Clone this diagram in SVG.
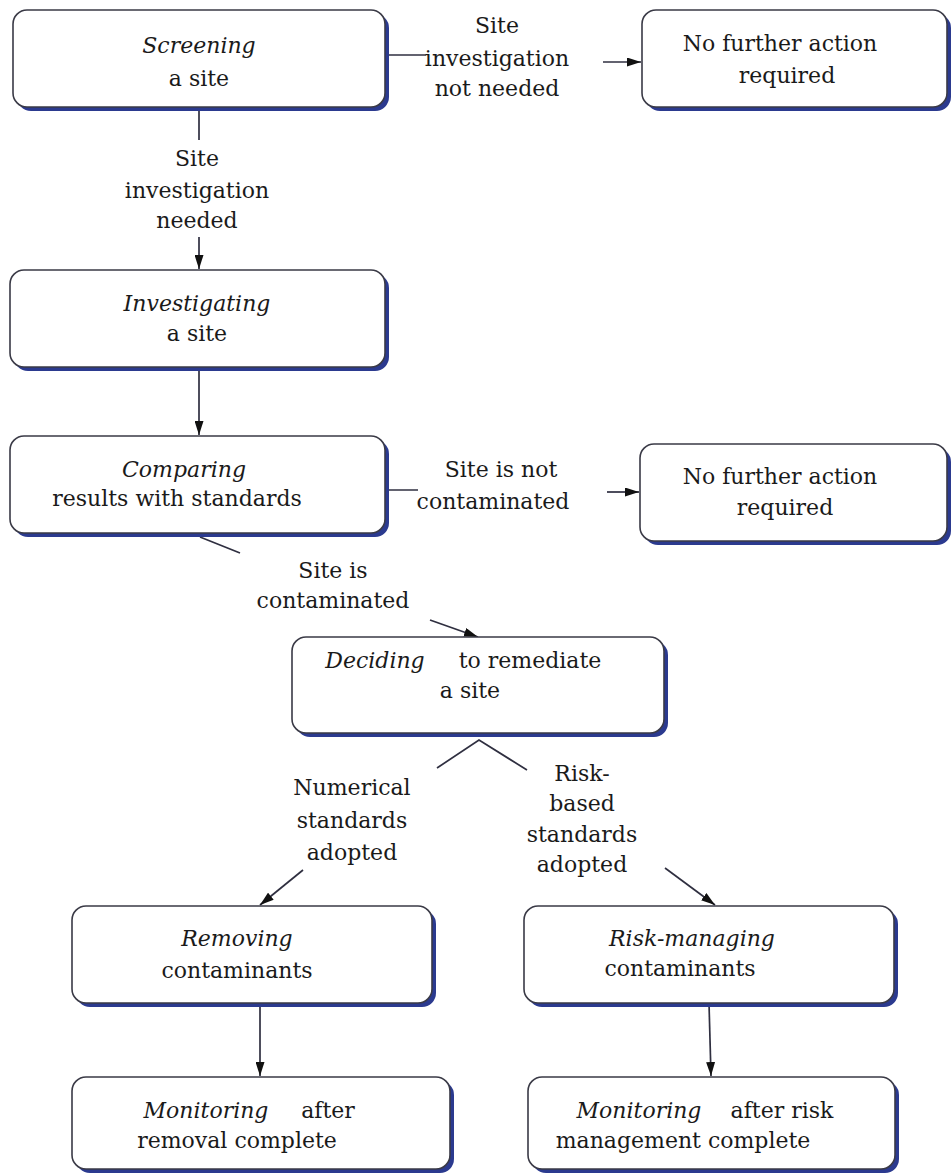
<svg xmlns="http://www.w3.org/2000/svg" width="952" height="1175" viewBox="0 0 952 1175">
<defs>
<style>
.box{fill:#fff;stroke:#3a3a46;stroke-width:1.6}
.sh{fill:#2b3a8f}
text{font-family:"DejaVu Serif","Liberation Serif",serif;font-size:22px;fill:#1a1a1a;text-anchor:middle}
.i{font-style:italic}
.c{fill:none;stroke:#2f2f40;stroke-width:1.7}
</style>
<marker id="ah" viewBox="0 0 14 9" refX="14" refY="4.5" markerWidth="14" markerHeight="9" markerUnits="userSpaceOnUse" orient="auto">
<path d="M0,0 L14,4.5 L0,9 Z" fill="#111"/>
</marker>
</defs>
<rect width="952" height="1175" fill="#fff"/>
<g id="connectors">
<line class="c" x1="385" y1="55" x2="426" y2="55"/>
<line class="c" x1="603" y1="62" x2="641" y2="62" marker-end="url(#ah)"/>
<line class="c" x1="199" y1="107" x2="199" y2="140"/>
<line class="c" x1="199" y1="237" x2="199" y2="269" marker-end="url(#ah)"/>
<line class="c" x1="199" y1="367" x2="199" y2="435" marker-end="url(#ah)"/>
<line class="c" x1="385" y1="490" x2="418" y2="490"/>
<line class="c" x1="607" y1="492" x2="639" y2="492" marker-end="url(#ah)"/>
<line class="c" x1="200" y1="537" x2="240" y2="553"/>
<line class="c" x1="430" y1="620" x2="478" y2="637" marker-end="url(#ah)"/>
<polyline class="c" points="437,768 479,740 527,770"/>
<line class="c" x1="303" y1="870" x2="260" y2="905" marker-end="url(#ah)"/>
<line class="c" x1="665" y1="868" x2="715" y2="905" marker-end="url(#ah)"/>
<line class="c" x1="260" y1="1003" x2="260" y2="1076" marker-end="url(#ah)"/>
<line class="c" x1="709" y1="1003" x2="711" y2="1076" marker-end="url(#ah)"/>
</g>
<g id="screening">
<rect class="sh" x="17" y="14" width="372" height="97" rx="14"/>
<rect class="box" x="13" y="10" width="372" height="97" rx="14"/>
<text class="i" x="199" y="53">Screening</text>
<text x="199" y="86">a site</text>
</g>
<g id="label-not-needed">
<text x="497" y="33">Site</text>
<text x="497" y="66">investigation</text>
<text x="497" y="96">not needed</text>
</g>
<g id="nfa1">
<rect class="sh" x="646" y="14" width="305" height="97" rx="14"/>
<rect class="box" x="642" y="10" width="305" height="97" rx="14"/>
<text x="780" y="51">No further action</text>
<text x="787" y="83">required</text>
</g>
<g id="label-needed">
<text x="197" y="166">Site</text>
<text x="197" y="198">investigation</text>
<text x="197" y="228">needed</text>
</g>
<g id="investigating">
<rect class="sh" x="14" y="274" width="375" height="97" rx="14"/>
<rect class="box" x="10" y="270" width="375" height="97" rx="14"/>
<text class="i" x="197" y="311">Investigating</text>
<text x="197" y="341">a site</text>
</g>
<g id="comparing">
<rect class="sh" x="14" y="440" width="375" height="97" rx="14"/>
<rect class="box" x="10" y="436" width="375" height="97" rx="14"/>
<text class="i" x="184" y="477">Comparing</text>
<text x="177" y="506">results with standards</text>
</g>
<g id="label-not-contaminated">
<text x="501" y="477">Site is not</text>
<text x="493" y="509">contaminated</text>
</g>
<g id="nfa2">
<rect class="sh" x="644" y="448" width="307" height="97" rx="14"/>
<rect class="box" x="640" y="444" width="307" height="97" rx="14"/>
<text x="780" y="484">No further action</text>
<text x="785" y="515">required</text>
</g>
<g id="label-contaminated">
<text x="333" y="578">Site is</text>
<text x="333" y="608">contaminated</text>
</g>
<g id="deciding">
<rect class="sh" x="296" y="641" width="372" height="96" rx="14"/>
<rect class="box" x="292" y="637" width="372" height="96" rx="14"/>
<text class="i" x="375" y="668">Deciding</text>
<text x="530" y="668">to remediate</text>
<text x="470" y="698">a site</text>
</g>
<g id="label-numerical">
<text x="352" y="795">Numerical</text>
<text x="352" y="828">standards</text>
<text x="352" y="860">adopted</text>
</g>
<g id="label-risk-based">
<text x="582" y="781">Risk-</text>
<text x="582" y="811">based</text>
<text x="582" y="842">standards</text>
<text x="582" y="872">adopted</text>
</g>
<g id="removing">
<rect class="sh" x="76" y="910" width="360" height="97" rx="14"/>
<rect class="box" x="72" y="906" width="360" height="97" rx="14"/>
<text class="i" x="237" y="946">Removing</text>
<text x="237" y="978">contaminants</text>
</g>
<g id="risk-managing">
<rect class="sh" x="528" y="910" width="370" height="97" rx="14"/>
<rect class="box" x="524" y="906" width="370" height="97" rx="14"/>
<text class="i" x="692" y="946">Risk-managing</text>
<text x="680" y="976">contaminants</text>
</g>
<g id="monitoring-removal">
<rect class="sh" x="76" y="1081" width="378" height="92" rx="14"/>
<rect class="box" x="72" y="1077" width="378" height="92" rx="14"/>
<text class="i" x="206" y="1118">Monitoring</text>
<text x="328" y="1118">after</text>
<text x="237" y="1148">removal complete</text>
</g>
<g id="monitoring-risk">
<rect class="sh" x="532" y="1081" width="367" height="92" rx="14"/>
<rect class="box" x="528" y="1077" width="367" height="92" rx="14"/>
<text class="i" x="639" y="1118">Monitoring</text>
<text x="782" y="1118">after risk</text>
<text x="683" y="1148">management complete</text>
</g>
</svg>
